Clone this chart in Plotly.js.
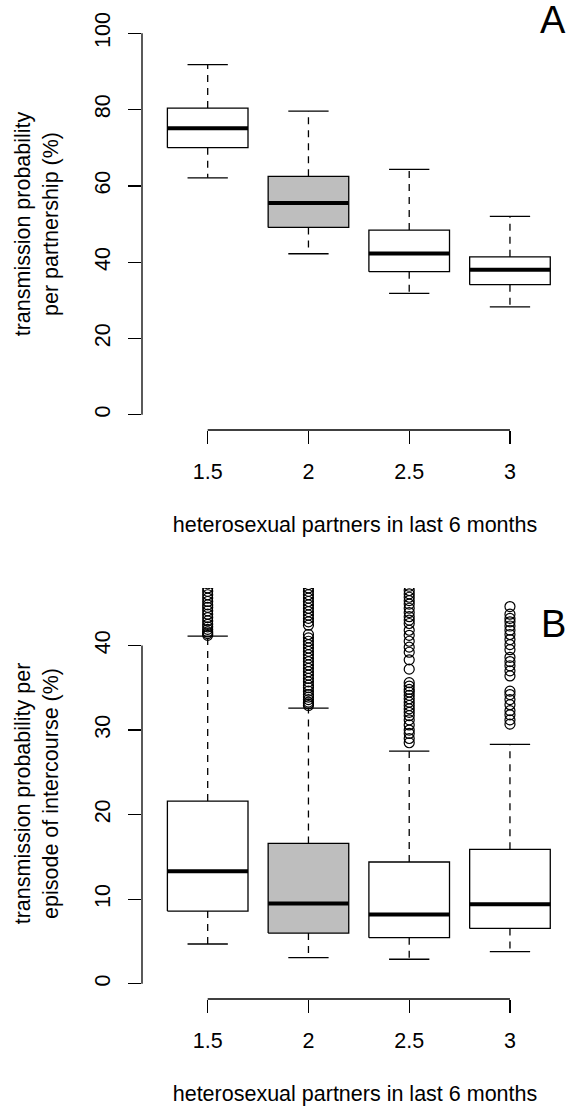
<!DOCTYPE html>
<html>
<head>
<meta charset="utf-8">
<script src="https://cdn.plot.ly/plotly-3.0.1.min.js"></script>
<style>
  html, body { margin: 0; padding: 0; background: #ffffff; }
  #chart { width: 568px; height: 1106px; }
</style>
</head>
<body>
<div id="chart"></div>
<script>
// ---- categories / tick labels ----
const groups = [1.5, 2, 2.5, 3];
const groupLabels = ['1.5', '2', '2.5', '3'];
const xTitle = 'heterosexual partners in last 6 months';
const boxFills = ['#ffffff', '#bebebe', '#ffffff', '#ffffff'];

// ---- Panel A: transmission probability per partnership (%) ----
const aLower  = [62.1, 42.2, 31.8, 28.3];
const aQ1     = [70.0, 49.1, 37.5, 34.1];
const aMedian = [75.1, 55.5, 42.3, 38.0];
const aQ3     = [80.4, 62.5, 48.4, 41.4];
const aUpper  = [91.8, 79.6, 64.3, 52.0];
const aOutliers = [[], [], [], []];
const aTicks = [0, 20, 40, 60, 80, 100];
const aTitle = 'transmission probability<br>per partnership (%)';

// ---- Panel B: transmission probability per episode of intercourse (%) ----
const bLower  = [4.7, 3.1, 2.9, 3.8];
const bQ1     = [8.6, 6.0, 5.45, 6.55];
const bMedian = [13.3, 9.5, 8.2, 9.4];
const bQ3     = [21.6, 16.6, 14.4, 15.9];
const bUpper  = [41.1, 32.6, 27.5, 28.3];
const bOut1 = [41.2, 41.4, 41.6, 41.9, 42.2, 42.5, 42.9, 43.3, 43.7, 44.1, 44.5, 44.8, 45.2, 45.6, 46.0, 46.4, 46.8, 47.3];
const bOut2 = [32.9, 33.1, 33.3, 33.6, 33.9, 34.2, 34.6, 35.0, 35.3, 35.7, 36.1, 36.5, 36.9, 37.3, 37.7, 38.1, 38.5, 38.9, 39.3, 39.7, 40.1, 40.5, 40.9, 41.3, 42.4, 42.8, 43.2, 43.6, 44.0, 44.4, 44.8, 45.2, 45.6, 46.0, 46.4, 46.8, 47.2];
const bOut3 = [28.5, 29.0, 29.6, 30.0, 30.6, 31.2, 31.7, 32.1, 32.5, 32.9, 33.3, 33.7, 34.1, 34.5, 34.8, 35.2, 35.6, 37.2, 38.3, 39.2, 39.8, 40.5, 41.2, 41.8, 42.6, 43.0, 43.4, 43.9, 44.4, 44.9, 45.3, 45.7, 46.1, 46.5, 47.0];
const bOut4 = [30.7, 31.2, 31.8, 32.3, 33.0, 33.6, 34.2, 34.6, 36.4, 37.0, 37.6, 38.1, 38.6, 39.5, 40.1, 40.7, 41.3, 41.8, 42.3, 42.8, 43.2, 43.7, 44.6];
const bOutliers = [bOut1, bOut2, bOut3, bOut4];
const bTicks = [0, 10, 20, 30, 40];
const bTitle = 'transmission probability per<br>episode of intercourse (%)';

const panelLetters = ['A', 'B'];

// ---- styling ----
const FONT = 'Liberation Sans, Arial, Helvetica, sans-serif';
const FS = 21.5;
const BOXW = 0.2;   // half box width (x units)
const CAPW = 0.1;   // half staple width

function panelTraces(xa, ya, lower, q1, med, q3, upper, outliers) {
  const tr = [];
  groups.forEach((g, i) => {
    tr.push({
      type: 'scatter', mode: 'lines', xaxis: xa, yaxis: ya,
      x: [g - BOXW, g + BOXW, g + BOXW, g - BOXW, g - BOXW],
      y: [q1[i], q1[i], q3[i], q3[i], q1[i]],
      fill: 'toself', fillcolor: boxFills[i],
      line: { color: '#000', width: 1.3 },
      hoverinfo: 'skip', showlegend: false
    });
  });
  const wx = [], wy = [];
  groups.forEach((g, i) => {
    wx.push(g, g, null, g, g, null);
    wy.push(q3[i], upper[i], null, q1[i], lower[i], null);
  });
  tr.push({
    type: 'scatter', mode: 'lines', xaxis: xa, yaxis: ya, x: wx, y: wy,
    line: { color: '#000', width: 1.3, dash: '7px,6px' },
    hoverinfo: 'skip', showlegend: false
  });
  const sx = [], sy = [];
  groups.forEach((g, i) => {
    sx.push(g - CAPW, g + CAPW, null, g - CAPW, g + CAPW, null);
    sy.push(upper[i], upper[i], null, lower[i], lower[i], null);
  });
  tr.push({
    type: 'scatter', mode: 'lines', xaxis: xa, yaxis: ya, x: sx, y: sy,
    line: { color: '#000', width: 1.3 },
    hoverinfo: 'skip', showlegend: false
  });
  const mx = [], my = [];
  groups.forEach((g, i) => {
    mx.push(g - BOXW, g + BOXW, null);
    my.push(med[i], med[i], null);
  });
  tr.push({
    type: 'scatter', mode: 'lines', xaxis: xa, yaxis: ya, x: mx, y: my,
    line: { color: '#000', width: 4 },
    hoverinfo: 'skip', showlegend: false
  });
  const ox = [], oy = [];
  groups.forEach((g, i) => {
    outliers[i].forEach(v => { ox.push(g); oy.push(v); });
  });
  if (ox.length) {
    tr.push({
      type: 'scatter', mode: 'markers', xaxis: xa, yaxis: ya, x: ox, y: oy,
      marker: { symbol: 'circle-open', size: 10, color: '#000', line: { width: 1.2, color: '#000' } },
      cliponaxis: true, hoverinfo: 'skip', showlegend: false
    });
  }
  return tr;
}

const traces = [].concat(
  panelTraces('x', 'y', aLower, aQ1, aMedian, aQ3, aUpper, aOutliers),
  panelTraces('x2', 'y2', bLower, bQ1, bMedian, bQ3, bUpper, bOutliers)
);

function xAxis(anchor) {
  return {
    anchor: anchor, domain: [0, 1], range: [1.174, 3.288],
    tickmode: 'array', tickvals: groups, ticktext: groupLabels,
    ticks: 'outside', ticklen: 13, tickwidth: 1.3, tickcolor: '#000',
    showline: false, showgrid: false, zeroline: false,
    ticklabelstandoff: 9,
    tickfont: { family: FONT, size: FS, color: '#000' },
    title: { text: xTitle, font: { family: FONT, size: FS, color: '#000' }, standoff: 34 },
    fixedrange: true
  };
}
function yAxis(domain, range, ticks, title) {
  return {
    domain: domain, range: range,
    tickmode: 'array', tickvals: ticks, ticktext: ticks.map(String),
    tickangle: -90,
    ticks: 'outside', ticklen: 13, tickwidth: 1.3, tickcolor: '#000',
    showline: false, showgrid: false, zeroline: false,
    ticklabelstandoff: 9,
    tickfont: { family: FONT, size: FS, color: '#000' },
    title: { text: title, font: { family: FONT, size: FS, color: '#000' }, standoff: 26 },
    fixedrange: true
  };
}

function axisLines(xa, ya, ticks) {
  return [
    { type: 'line', xref: xa, yref: ya + ' domain',
      x0: groups[0], x1: groups[groups.length - 1], y0: 0, y1: 0,
      line: { color: '#000', width: 1.3 } },
    { type: 'line', xref: xa + ' domain', yref: ya,
      x0: 0, x1: 0, y0: ticks[0], y1: ticks[ticks.length - 1],
      line: { color: '#000', width: 1.3 } }
  ];
}

const layout = {
  width: 568, height: 1106,
  margin: { l: 142, r: 0, t: 18, b: 107 },
  paper_bgcolor: '#ffffff', plot_bgcolor: '#ffffff',
  font: { family: FONT, size: FS, color: '#000' },
  showlegend: false,
  xaxis: xAxis('y'),
  yaxis: yAxis([0.580, 1], [-4, 104], aTicks, aTitle),
  xaxis2: xAxis('y2'),
  yaxis2: yAxis([0, 0.419], [-1.8, 46.8], bTicks, bTitle),
  shapes: [].concat(axisLines('x', 'y', aTicks), axisLines('x2', 'y2', bTicks)),
  annotations: [
    { text: panelLetters[0], xref: 'paper', yref: 'paper', x: 0.965, y: 0.998,
      xanchor: 'center', yanchor: 'middle', showarrow: false,
      font: { family: FONT, size: 38, color: '#000' } },
    { text: panelLetters[1], xref: 'paper', yref: 'paper', x: 0.965, y: 0.382,
      xanchor: 'center', yanchor: 'middle', showarrow: false,
      font: { family: FONT, size: 38, color: '#000' } }
  ]
};

Plotly.newPlot('chart', traces, layout, { staticPlot: true, displayModeBar: false });
</script>
</body>
</html>
